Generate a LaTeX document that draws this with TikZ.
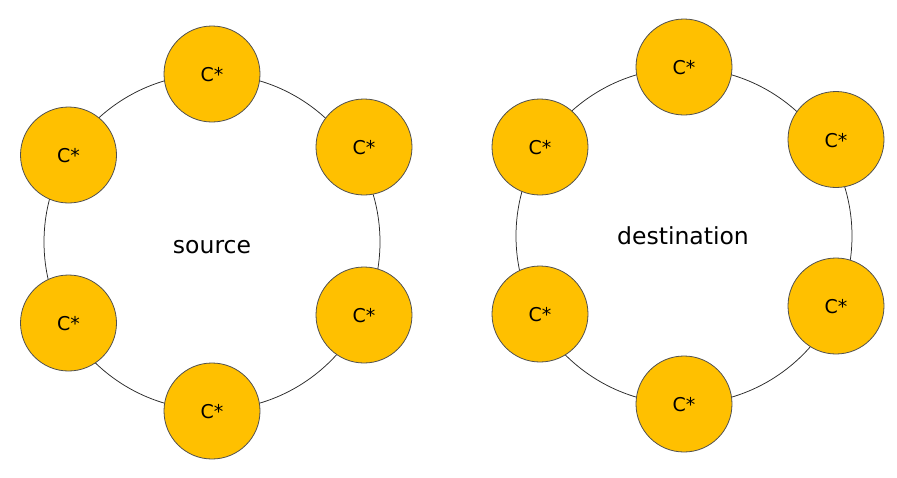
\documentclass[tikz,border=0pt]{standalone}
\usepackage{fontspec}
\setmainfont{DejaVu Sans}
\definecolor{gold}{RGB}{255,192,0}
\definecolor{rimgray}{RGB}{80,80,80}
\definecolor{ringgray}{RGB}{40,40,40}
\begin{document}
\begin{tikzpicture}[x=1pt,y=-1pt,
  cnode/.style={circle, draw=rimgray, line width=0.8pt, fill=gold, minimum size=96pt, inner sep=0pt,
     font=\fontsize{19}{21}\selectfont, text height=15pt, text depth=0pt},
  ring/.style={circle, draw=ringgray, line width=0.75pt, minimum size=336pt, inner sep=0pt},
  lbl/.style={anchor=base, font=\fontsize{23.5}{27}\selectfont}]
\useasboundingbox (0,0) rectangle (897,477);
% rings
\node[ring] (ringL) at (212,242) {};
\node[ring] (ringR) at (684,236) {};
% left nodes
\node[cnode] (L1) at (212,74) {C*};
\node[cnode] (L2) at (364,147) {C*};
\node[cnode] (L3) at (364,315) {C*};
\node[cnode] (L4) at (212,411) {C*};
\node[cnode] (L5) at (68.5,323) {C*};
\node[cnode] (L6) at (68.5,155) {C*};
% right nodes
\node[cnode] (R1) at (684,67) {C*};
\node[cnode] (R2) at (836,139.5) {C*};
\node[cnode] (R3) at (836,306) {C*};
\node[cnode] (R4) at (684,404) {C*};
\node[cnode] (R5) at (540,314) {C*};
\node[cnode] (R6) at (540,147) {C*};
% labels
\node[lbl] (src) at (212,253.3) {source};
\node[lbl] (dst) at (683,244.3) {destination};
\end{tikzpicture}
\end{document}
